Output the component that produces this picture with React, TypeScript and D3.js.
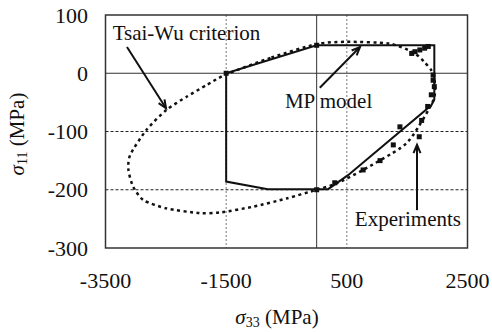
import React from "react";
import * as d3 from "d3";

const xTicks = [-3500, -1500, 500, 2500];
const yTicks = [100, 0, -100, -200, -300];
const xGrid = [-1500, 500];
const yGrid = [-100, -200];

const mpModel: [number, number][] = [
  [-1500, 0], [0, 48], [1950, 48], [1950, -45], [1900, -55], [520, -175],
  [190, -199], [-810, -199], [-1500, -186], [-1500, 0],
];

const tsaiWu: [number, number][] = [
  [-1500, -2], [-750, 27], [0, 50], [500, 54], [1200, 51], [1600, 36], [1780, 20],
  [1900, 5], [1950, -8], [1940, -45], [1600, -106], [1380, -129], [770, -166],
  [330, -189], [0, -200], [-500, -215], [-1050, -229], [-1600, -239], [-1950, -240],
  [-2490, -232], [-2870, -218], [-3040, -195], [-3120, -166], [-3090, -140],
  [-2820, -97], [-2490, -63], [-2150, -40], [-1820, -20],
];

const experiments: [number, number][] = [
  [-1500, 0], [0, 48], [0, -200], [300, -188], [770, -166], [1050, -150], [1270, -123],
  [1380, -92], [1700, -109], [1740, -81], [1840, -57], [1900, -37], [1950, -23],
  [1930, -12], [1930, -3], [1575, 34], [1630, 37], [1710, 40], [1790, 43], [1850, 46],
];

const annotations = [
  { text: "Tsai-Wu criterion", x: -3381, y: 57, from: [-3144, 45], to: [-2497, -60] },
  { text: "MP model", x: -526, y: -60, from: [52, -25], to: [718, 45] },
  { text: "Experiments", x: 633, y: -263, from: [1663, -235], to: [1663, -123] },
];

const FF = "Liberation Serif";

export default function App() {
  const W = 492, H = 332;
  const x = d3.scaleLinear().domain([-3500, 2500]).range([105.5, 467.5]);
  const y = d3.scaleLinear().domain([-300, 100]).range([248, 15]);
  const line = d3.line<[number, number]>().x(d => x(d[0])).y(d => y(d[1]));
  const closed = d3.line<[number, number]>().x(d => x(d[0])).y(d => y(d[1])).curve(d3.curveCardinalClosed.tension(0.3));

  const arrowHead = (from: number[], to: number[]) => {
    const x1 = x(from[0]), y1 = y(from[1]), x2 = x(to[0]), y2 = y(to[1]);
    const a = Math.atan2(y2 - y1, x2 - x1);
    const L = 9, s = 0.4;
    const p1 = [x2 - L * Math.cos(a - s), y2 - L * Math.sin(a - s)];
    const p2 = [x2 - L * Math.cos(a + s), y2 - L * Math.sin(a + s)];
    return `M${p1[0]},${p1[1]}L${x2},${y2}L${p2[0]},${p2[1]}`;
  };

  return (
    <svg width={W} height={H} style={{ position: "absolute", left: 0, top: 0 }}>
      <style>{`text, tspan { font-family: "Liberation Serif", serif; }`}</style>
      <rect x={0} y={0} width={W} height={H} fill="#fff" />
      {xGrid.map(v => (
        <line key={"xg" + v} x1={x(v)} x2={x(v)} y1={y(100)} y2={y(-300)} stroke="#777" strokeWidth={1} strokeDasharray="2,2" />
      ))}
      {yGrid.map(v => (
        <line key={"yg" + v} x1={x(-3500)} x2={x(2500)} y1={y(v)} y2={y(v)} stroke="#222" strokeWidth={1} strokeDasharray="3,2" />
      ))}
      <line x1={x(0)} x2={x(0)} y1={y(100)} y2={y(-300)} stroke="#333" strokeWidth={1} />
      <line x1={x(-3500)} x2={x(2500)} y1={y(0)} y2={y(0)} stroke="#333" strokeWidth={1} />
      <rect x={x(-3500)} y={y(100)} width={x(2500) - x(-3500)} height={y(-300) - y(100)} fill="none" stroke="#333" strokeWidth={1.5} />
      <path d={closed(tsaiWu) || ""} fill="none" stroke="#111" strokeWidth={2.5} strokeDasharray="3,3.5" />
      <path d={line(mpModel) || ""} fill="none" stroke="#111" strokeWidth={2} />
      {experiments.map((d, i) => (
        <rect key={"e" + i} x={x(d[0]) - 2.5} y={y(d[1]) - 2.5} width={5} height={5} fill="#111" />
      ))}
      {annotations.map((a, i) => (
        <g key={"a" + i}>
          <text x={x(a.x)} y={y(a.y)} fontSize={21} fill="#111" fontFamily={FF}>{a.text}</text>
          <line x1={x(a.from[0])} y1={y(a.from[1])} x2={x(a.to[0])} y2={y(a.to[1])} stroke="#111" strokeWidth={2} />
          <path d={arrowHead(a.from, a.to)} fill="none" stroke="#111" strokeWidth={2} />
        </g>
      ))}
      {yTicks.map(v => (
        <text key={"yt" + v} x={88} y={y(v)} dy="0.35em" textAnchor="end" fontSize={22} fill="#111" fontFamily={FF}>{v}</text>
      ))}
      {xTicks.map(v => (
        <text key={"xt" + v} x={x(v)} y={288} textAnchor="middle" fontSize={22} fill="#111" fontFamily={FF}>{v}</text>
      ))}
      <text x={277} y={324} textAnchor="middle" fontSize={21} fill="#111" fontFamily={FF}>
        <tspan fontStyle="italic">σ</tspan>
        <tspan fontSize={14} dy={3}>33</tspan>
        <tspan dy={-3}> (MPa)</tspan>
      </text>
      <text transform="translate(24,134) rotate(-90)" textAnchor="middle" fontSize={21} fill="#111" fontFamily={FF}>
        <tspan fontStyle="italic">σ</tspan>
        <tspan fontSize={14} dy={3}>11</tspan>
        <tspan dy={-3}> (MPa)</tspan>
      </text>
    </svg>
  );
}
